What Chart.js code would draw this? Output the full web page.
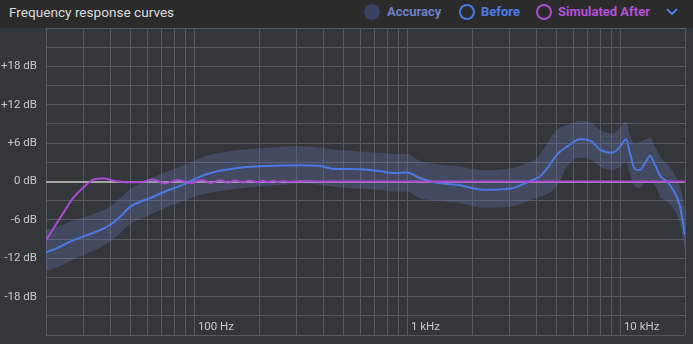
<!DOCTYPE html>
<html>
<head>
<meta charset="utf-8">
<script src="https://cdn.jsdelivr.net/npm/chart.js@4.4.0/dist/chart.umd.min.js"></script>
<style>
	body { margin: 0; background: #33363b; font-family: Roboto, 'Noto Sans', sans-serif; }
	#wrap { position: relative; width: 693px; height: 344px; overflow: hidden; }
	#hdr { position: absolute; left: 0; top: 0; width: 693px; height: 28px; background: #2b2b2b; }
	#hdr span { position: absolute; top: 4px; line-height: 16px; font-size: 13px; white-space: nowrap; }
	#hdr .title { left: 9px; color: #dcdcdc; font-size: 13.6px; }
	.lg { font-weight: bold; }
	.dot { position: absolute; top: 4px; width: 16px; height: 16px; border-radius: 50%; box-sizing: border-box; }
	#chev { position: absolute; left: 666px; top: 8px; }
	#plot { position: absolute; left: 0; top: 28px; }
</style>
</head>
<body>
<div id="wrap">
	<div id="hdr">
		<span class="title">Frequency response curves</span>
		<i class="dot" style="left:364px; background:#394261;"></i>
		<span class="lg" style="left:387px; color:#6c80c6;">Accuracy</span>
		<i class="dot" style="left:459px; border:2px solid #4a79e3;"></i>
		<span class="lg" style="left:481px; color:#4d7ce8;">Before</span>
		<i class="dot" style="left:536px; border:2px solid #a84bd0;"></i>
		<span class="lg" style="left:558px; color:#b450d6;">Simulated After</span>
		<svg id="chev" width="12" height="8"><polyline points="1,1 6,6 11,1" fill="none" stroke="#4d7ce8" stroke-width="2"/></svg>
	</div>
	<canvas id="plot" width="693" height="316"></canvas>
</div>
<script>
const gridFreqs = [20, 30, 40, 50, 60, 70, 80, 90, 100, 200, 300, 400, 500, 600, 700, 800, 900,
	1000, 2000, 3000, 4000, 5000, 6000, 7000, 8000, 9000, 10000, 20000];
const freqLabels = { 100: '100 Hz', 1000: '1 kHz', 10000: '10 kHz' };

// Before (measured) + accuracy band
const beforeFreq = [20, 23.3, 26.8, 30.5, 35.9, 40, 44.3, 49.4, 55.2, 61.5, 72, 88, 105, 126, 181, 258, 311,
	387, 440, 534, 660, 780, 890, 990, 1140, 1370, 1700, 2260, 3100, 3700, 4140, 4500, 5012, 5586, 6428,
	7161, 7980, 9080, 9910, 10570, 11040, 11640, 12300, 12980, 13700, 14460, 15270, 16460, 17580, 18960, 20000];
const beforeDb = [-11.1, -10.2, -9.2, -8.5, -7.6, -6.8, -5.6, -4.0, -3.2, -2.6, -1.6, -0.5, 0.7, 1.55, 2.3, 2.5, 2.55,
	2.45, 2.0, 1.95, 1.8, 1.5, 1.3, 1.4, 0.5, -0.2, -0.5, -1.3, -1.05, 0.0, 0.7, 2.0, 4.2, 5.45, 6.6,
	6.4, 5.0, 4.5, 5.45, 6.6, 4.4, 1.9, 1.8, 2.9, 4.0, 2.6, 0.9, 0.0, -1.3, -3.9, -8.4];
const bandUpper = [-7.6, -6.9, -6.1, -5.5, -4.7, -3.9, -2.7, -1.2, -0.3, 0.4, 1.4, 2.5, 3.6, 4.4, 5.1, 5.45, 5.5,
	5.3, 5.0, 4.8, 4.6, 4.4, 4.3, 4.3, 3.2, 2.7, 2.4, 1.8, 2.1, 3.0, 4.0, 6.0, 8.1, 8.8, 9.5,
	9.3, 8.1, 7.5, 8.5, 9.4, 7.2, 6.0, 6.2, 6.5, 6.9, 5.5, 3.9, 2.8, 1.5, -0.8, -4.5];
const bandLower = [-14.0, -13.2, -12.2, -11.4, -10.3, -9.4, -8.2, -6.7, -5.9, -5.2, -4.2, -3.1, -2.1, -1.6, -0.9, -0.5, -0.3,
	-0.5, -0.8, -1.0, -1.2, -1.4, -1.6, -1.6, -2.6, -3.0, -3.3, -4.1, -3.9, -3.0, -2.4, -2.0, -0.8, 2.3, 3.7,
	3.5, 2.3, 1.8, 2.3, 3.1, 1.2, -0.8, -1.0, -0.2, 0.25, -0.6, -2.4, -3.2, -4.2, -6.6, -11.0];

// Simulated After
const afterFreq = [20, 23.3, 26.8, 29.8, 33.2, 37, 41.3, 48, 55.2, 63.6, 72.4, 83.3, 94.9, 108, 119, 131, 143,
	154, 168, 181, 196, 209, 220, 233, 246, 259, 280, 312, 387, 1000, 5000, 20000];
const afterDb = [-9.2, -5.7, -2.6, -1.0, 0.25, 0.5, 0.15, -0.1, -0.1, 0.3, -0.3, 0.25, -0.25, 0.25, -0.22, 0.2, -0.18,
	0.17, -0.15, 0.15, -0.12, 0.12, -0.1, 0.1, -0.08, 0.08, -0.05, 0.04, 0, 0, 0, 0];

const toPoints = (xs, ys) => xs.map((x, i) => ({ x, y: ys[i] }));

const gridColor = '#55595f';

const freqLabelPlugin = {
	id: 'freqLabels',
	afterDraw(chart) {
		const { ctx, chartArea, scales } = chart;
		ctx.save();
		ctx.font = '11.5px Roboto, "Noto Sans", sans-serif';
		ctx.fillStyle = '#c5c8cc';
		ctx.textAlign = 'left';
		ctx.textBaseline = 'middle';
		Object.keys(freqLabels).forEach(f => {
			ctx.fillText(freqLabels[f], scales.x.getPixelForValue(Number(f)) + 3, chartArea.bottom - 8);
		});
		ctx.restore();
	}
};

new Chart(document.querySelector('#plot'), {
	type: 'line',
	data: {
		datasets: [
			{
				label: 'Simulated After',
				data: toPoints(afterFreq, afterDb),
				borderColor: '#a84bd0',
				borderWidth: 2,
				pointRadius: 0,
				cubicInterpolationMode: 'monotone',
				order: 0
			},
			{
				label: 'Before',
				data: toPoints(beforeFreq, beforeDb),
				borderColor: '#4a79e3',
				borderWidth: 2,
				pointRadius: 0,
				cubicInterpolationMode: 'monotone',
				order: 1
			},
			{
				label: 'Accuracy',
				data: toPoints(beforeFreq, bandUpper),
				borderWidth: 0,
				pointRadius: 0,
				backgroundColor: 'rgba(112, 126, 190, 0.27)',
				fill: '+1',
				cubicInterpolationMode: 'monotone',
				order: 2
			},
			{
				label: 'Accuracy low',
				data: toPoints(beforeFreq, bandLower),
				borderWidth: 0,
				pointRadius: 0,
				fill: false,
				cubicInterpolationMode: 'monotone',
				order: 3
			}
		]
	},
	options: {
		responsive: false,
		devicePixelRatio: 1,
		animation: false,
		layout: { padding: { left: 0, right: 8, top: 0, bottom: 9 } },
		scales: {
			x: {
				type: 'logarithmic',
				min: 20,
				max: 20000,
				afterBuildTicks: scale => { scale.ticks = gridFreqs.map(value => ({ value })); },
				afterFit: scale => { scale.height = 0; scale.paddingLeft = 0; scale.paddingRight = 0; },
				ticks: { display: false },
				grid: { color: gridColor, drawTicks: false },
				border: { display: false }
			},
			y: {
				min: -24,
				max: 24,
				afterFit: scale => {
					scale.width = 46;
					scale.paddingTop = 0;
					scale.paddingBottom = 0;
				},
				ticks: {
					stepSize: 3,
					padding: 9,
					color: '#c5c8cc',
					font: { family: 'Roboto, "Noto Sans", sans-serif', size: 11.5 },
					callback: v => {
						if (v % 6 !== 0 || Math.abs(v) === 24) return '';
						return (v > 0 ? '+' : '') + v + ' dB';
					}
				},
				grid: {
					drawTicks: false,
					color: ctx => ctx.tick && ctx.tick.value === 0 ? '#a6a6a6' : gridColor,
					lineWidth: ctx => ctx.tick && ctx.tick.value === 0 ? 2 : 1
				},
				border: { display: false }
			}
		},
		plugins: {
			legend: { display: false },
			tooltip: { enabled: false }
		}
	},
	plugins: [freqLabelPlugin]
});
</script>
</body>
</html>
